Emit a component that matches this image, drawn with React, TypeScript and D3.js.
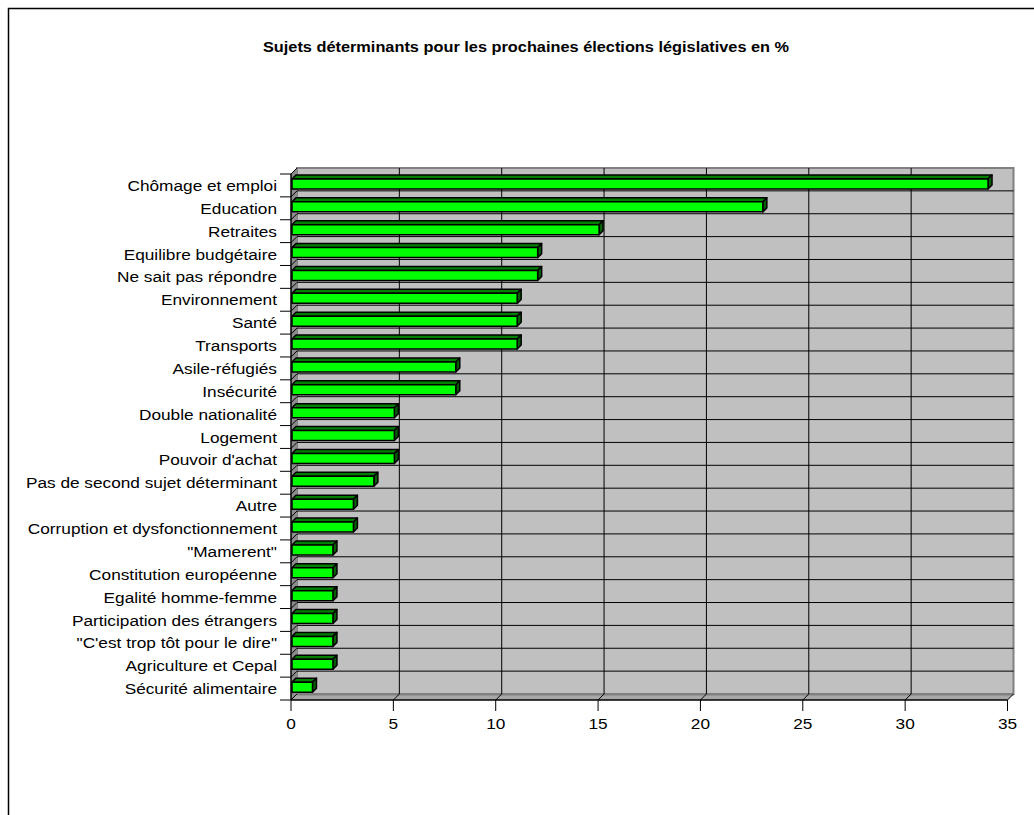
import * as d3 from "d3";
import * as React from "react";

const title = "Sujets déterminants pour les prochaines élections législatives en %";

const categories = [
  "Chômage et emploi",
  "Education",
  "Retraites",
  "Equilibre budgétaire",
  "Ne sait pas répondre",
  "Environnement",
  "Santé",
  "Transports",
  "Asile-réfugiés",
  "Insécurité",
  "Double nationalité",
  "Logement",
  "Pouvoir d'achat",
  "Pas de second sujet déterminant",
  "Autre",
  "Corruption et dysfonctionnement",
  "\"Mamerent\"",
  "Constitution européenne",
  "Egalité homme-femme",
  "Participation des étrangers",
  "\"C'est trop tôt pour le dire\"",
  "Agriculture et Cepal",
  "Sécurité alimentaire",
];

const values = [34, 23, 15, 12, 12, 11, 11, 11, 8, 8, 5, 5, 5, 4, 3, 3, 2, 2, 2, 2, 2, 2, 1];

const xTicks = [0, 5, 10, 15, 20, 25, 30, 35];

// plot geometry (page coords)
const left = 291;
const right = 1007.5;
const top = 174;
const bottom = 700;
const depth = 6; // 3d wall depth
const barDepth = 4;
const font = "'Liberation Sans', Arial, sans-serif";
const stretch = 1.15; // text in the original is a bit wider than tall

export default function App() {
  const x = d3.scaleLinear().domain([0, 35]).range([left, right]);
  const y = d3.scaleBand().domain(categories).range([top, bottom]).padding(0);
  const bw = y.bandwidth();
  const boundaries = d3.range(categories.length + 1).map((i) => top + i * bw);

  return (
    <svg
      width={1034}
      height={815}
      style={{ position: "absolute", left: 0, top: 0 }}
      fontFamily={font}
    >
      <rect width={1034} height={815} fill="#fff" />
      {/* outer frame */}
      <path d="M8.5,815V8.5H1034" fill="none" stroke="#000" strokeWidth={1.5} />

      <g transform={`translate(526,52) scale(${stretch},1)`}>
        <text textAnchor="middle" fontSize={14.2} fontWeight="bold">
          {title}
        </text>
      </g>

      {/* back wall */}
      <rect
        x={left + depth}
        y={top - depth}
        width={right - left}
        height={bottom - top}
        fill="#c0c0c0"
        stroke="#808080"
        strokeWidth={2}
      />
      {/* left wall */}
      <path
        d={`M${left},${top}L${left + depth},${top - depth}V${bottom - depth}L${left},${bottom}Z`}
        fill="#8c8c8c"
      />
      {/* floor */}
      <path
        d={`M${left},${bottom}L${left + depth},${bottom - depth}H${right + depth}L${right},${bottom}Z`}
        fill="#a8a8a8"
      />
      <line x1={left + depth} x2={right + depth} y1={bottom - depth + 0.5} y2={bottom - depth + 0.5} stroke="#808080" strokeWidth={2} />

      {/* gridlines on back wall */}
      {boundaries.slice(1, -1).map((b, i) => (
        <line key={"h" + i} x1={left + depth} x2={right + depth} y1={b - depth} y2={b - depth} stroke="#000" strokeWidth={1} />
      ))}
      {xTicks.slice(1, -1).map((t) => (
        <line key={"v" + t} x1={x(t) + depth} x2={x(t) + depth} y1={top - depth} y2={bottom - depth} stroke="#000" strokeWidth={1} />
      ))}
      {/* diagonals on side wall and floor */}
      {boundaries.map((b, i) => (
        <line key={"dl" + i} x1={left} y1={b} x2={left + depth} y2={b - depth} stroke="#000" strokeWidth={1} />
      ))}
      {xTicks.map((t) => (
        <line key={"df" + t} x1={x(t)} y1={bottom} x2={x(t) + depth} y2={bottom - depth} stroke="#000" strokeWidth={1} />
      ))}

      {/* bars */}
      {categories.map((c, i) => {
        const y0 = (y(c) as number) + 5;
        const h = 10;
        const x0 = left + 1;
        const x1 = x(values[i]) + 1;
        return (
          <g key={c} stroke="#000" strokeWidth={1.5} strokeLinejoin="round">
            <path
              d={`M${x0},${y0}L${x0 + barDepth},${y0 - barDepth}H${x1 + barDepth}L${x1},${y0}Z`}
              fill="#008000"
            />
            <path
              d={`M${x1},${y0}L${x1 + barDepth},${y0 - barDepth}V${y0 + h - barDepth}L${x1},${y0 + h}Z`}
              fill="#006000"
            />
            <rect x={x0} y={y0} width={x1 - x0} height={h} fill="#00ff00" />
          </g>
        );
      })}

      {/* front axes */}
      <line x1={left} x2={left} y1={top} y2={bottom} stroke="#000" strokeWidth={1.5} />
      <line x1={left} x2={right} y1={bottom} y2={bottom} stroke="#000" strokeWidth={1.5} />
      {boundaries.map((b, i) => (
        <line key={"yt" + i} x1={left - 11} x2={left} y1={b} y2={b} stroke="#000" strokeWidth={1} />
      ))}
      {xTicks.map((t) => (
        <line key={"xt" + t} x1={x(t)} x2={x(t)} y1={bottom} y2={bottom + 11} stroke="#000" strokeWidth={1} />
      ))}

      {/* category labels */}
      {categories.map((c) => (
        <g key={"l" + c} transform={`translate(277,${(y(c) as number) + bw / 2}) scale(${stretch},1)`}>
          <text textAnchor="end" dominantBaseline="central" fontSize={15} fill="#000">
            {c}
          </text>
        </g>
      ))}
      {/* x tick labels */}
      {xTicks.map((t) => (
        <g key={"xl" + t} transform={`translate(${x(t)},${bottom + 23}) scale(${stretch},1)`}>
          <text textAnchor="middle" dominantBaseline="central" fontSize={15} fill="#000">
            {t}
          </text>
        </g>
      ))}
    </svg>
  );
}
